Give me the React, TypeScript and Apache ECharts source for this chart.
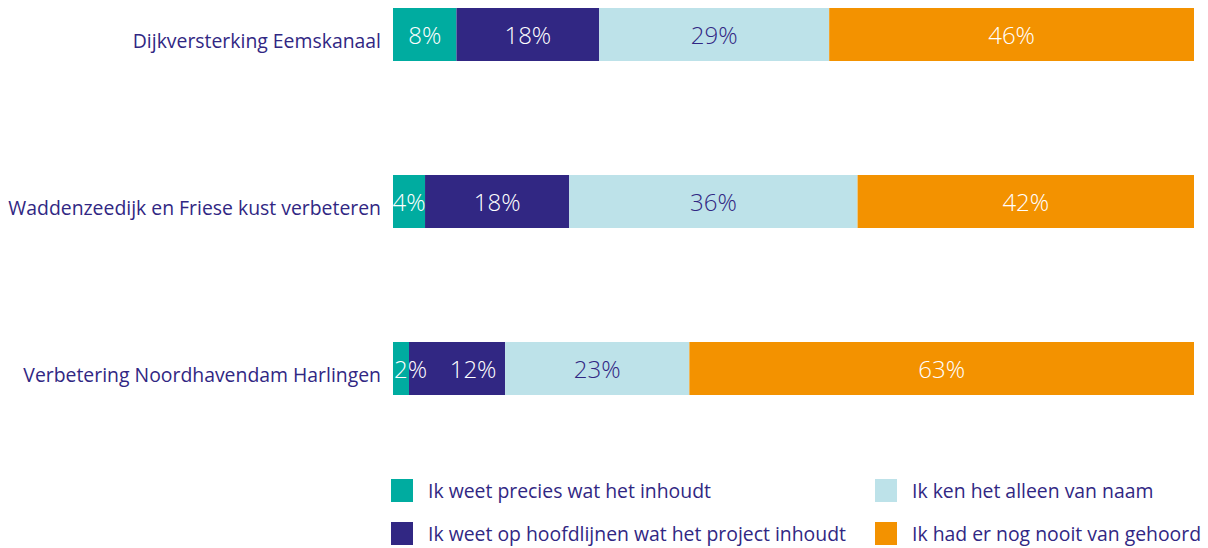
import React, { useEffect, useRef } from "react";
import * as echarts from "echarts";

const categories = [
  "Dijkversterking Eemskanaal",
  "Waddenzeedijk en Friese kust verbeteren",
  "Verbetering Noordhavendam Harlingen",
];
const seriesNames = [
  "Ik weet precies wat het inhoudt",
  "Ik weet op hoofdlijnen wat het project inhoudt",
  "Ik ken het alleen van naam",
  "Ik had er nog nooit van gehoord",
];
const precies = [8, 4, 2];
const hoofdlijnen = [18, 18, 12];
const alleenNaam = [29, 36, 23];
const nooit = [46, 42, 63];

const seriesValues = [precies, hoofdlijnen, alleenNaam, nooit];
const colors = ["#00aca0", "#312783", "#bde2e9", "#f39200"];
const labelColors = ["#ffffff", "#ffffff", "#312783", "#ffffff"];
const textColor = "#312783";
const font = "'Open Sans', Lato, sans-serif";

export default function App() {
  const ref = useRef<HTMLDivElement>(null);
  useEffect(() => {
    if (!ref.current) return;
    const chart = echarts.init(ref.current, undefined, { renderer: "svg" });
    const rowSums = categories.map((_, i) =>
      seriesValues.reduce((s, arr) => s + arr[i], 0)
    );
    const series = seriesValues.map((vals, si) => ({
      name: seriesNames[si],
      type: "bar",
      stack: "total",
      barWidth: 53,
      clip: false,
      itemStyle: { color: colors[si] },
      label: {
        show: true,
        position: "inside",
        color: labelColors[si],
        fontFamily: font,
        fontWeight: 300,
        fontSize: 24,
        formatter: (p: any) => vals[p.dataIndex] + "%",
      },
      data: vals.map((v, i) => {
        const item: any = { value: (v / rowSums[i]) * 100 };
        if (v < 3) {
          item.label = { position: "insideLeft", distance: 1 };
        } else if (si > 0 && seriesValues[si - 1][i] < 3) {
          item.label = { offset: [16, 0] };
        }
        return item;
      }),
    }));
    const legendText = {
      color: textColor,
      fontFamily: font,
      fontSize: 19.4,
      lineHeight: 20,
      padding: [0, 0, 0, 10],
    };
    chart.setOption({
      animation: false,
      grid: { left: 393, right: 14, top: 34.5, bottom: 179.5, containLabel: false },
      xAxis: { type: "value", min: 0, max: 100, show: false },
      yAxis: {
        type: "category",
        data: categories,
        inverse: true,
        boundaryGap: false,
        axisLine: { show: false },
        axisTick: { show: false },
        splitLine: { show: false },
        axisLabel: {
          color: textColor,
          fontFamily: font,
          fontSize: 19.4,
          margin: 12,
          verticalAlign: "top",
          lineHeight: 12,
        },
      },
      legend: [
        {
          data: [seriesNames[0], seriesNames[1]],
          orient: "vertical",
          left: 391,
          top: 479,
          itemWidth: 22,
          itemHeight: 23,
          itemGap: 20,
          icon: "rect",
          padding: 0,
          selectedMode: false,
          textStyle: legendText,
        },
        {
          data: [seriesNames[2], seriesNames[3]],
          orient: "vertical",
          left: 875,
          top: 479,
          itemWidth: 22,
          itemHeight: 23,
          itemGap: 20,
          icon: "rect",
          padding: 0,
          selectedMode: false,
          textStyle: legendText,
        },
      ],
      series,
    });
    return () => chart.dispose();
  }, []);
  return (
    <div
      ref={ref}
      style={{ position: "absolute", left: 0, top: 0, width: 1208, height: 548 }}
    />
  );
}
